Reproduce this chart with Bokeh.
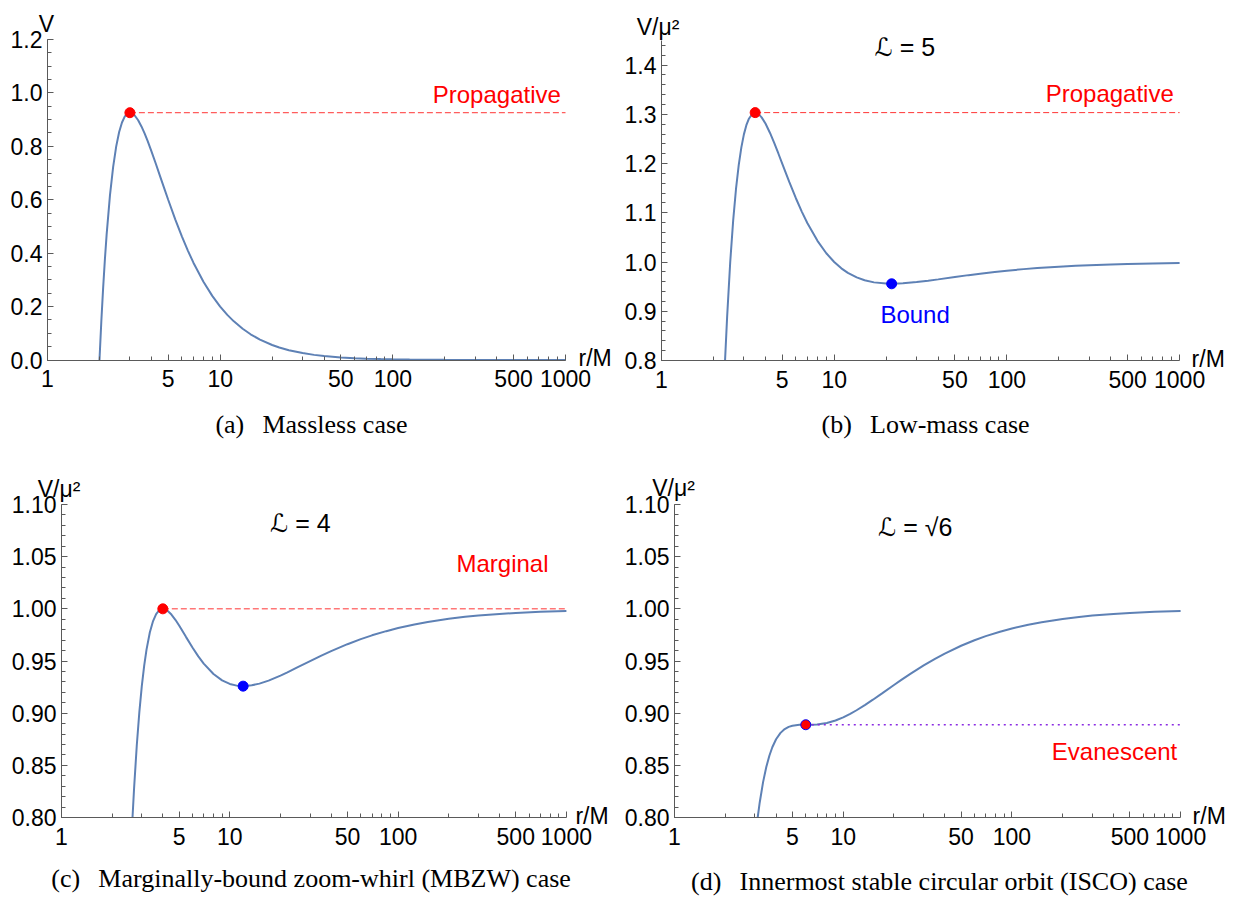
from bokeh.plotting import figure
from bokeh.models import FixedTicker, PrintfTickFormatter, Label, Range1d
from bokeh.layouts import row, column
from bokeh.embed import file_html
from bokeh.resources import INLINE

# ---------------- data ----------------
r_grid = [2.0, 2.05, 2.1, 2.15, 2.2, 2.3, 2.4, 2.5, 2.6, 2.7, 2.8, 2.9, 3.0, 3.1, 3.2,
          3.35, 3.5, 3.65, 3.8, 4.0, 4.25, 4.5, 4.75, 5.0, 5.5, 6.0, 6.5, 7.0, 8.0, 9.0,
          10, 11, 12, 13.5, 15, 17, 20, 22, 25, 30, 35, 40, 50, 60, 70, 85, 100, 125,
          150, 200, 250, 300, 400, 500, 700, 1000]

v_massless = [0.0, 0.1451, 0.2700, 0.3773, 0.4696, 0.6164, 0.7234, 0.8000, 0.8534, 0.8891,
              0.9111, 0.9225, 0.9259, 0.9231, 0.9155, 0.8977, 0.8746, 0.8483, 0.8201, 0.7813,
              0.7328, 0.6859, 0.6415, 0.6000, 0.5259, 0.4630, 0.4096, 0.3644, 0.2930, 0.2401,
              0.2000, 0.1690, 0.1447, 0.1169, 0.0963, 0.0763, 0.0563, 0.0470, 0.0368, 0.0259,
              0.0192, 0.0148, 0.0096, 0.0067, 0.0050, 0.0034, 0.0025, 0.0016, 0.0011, 0.0006,
              0.0004, 0.0003, 0.0002, 0.0001, 0.0001, 0.0000]

v_lowmass = [0.0, 0.1695, 0.3176, 0.4471, 0.5605, 0.7468, 0.8901, 1.0000, 1.0842, 1.1484,
             1.1968, 1.2328, 1.2593, 1.2779, 1.2905, 1.3007, 1.3032, 1.3004, 1.2938, 1.2813,
             1.2622, 1.2415, 1.2205, 1.2000, 1.1623, 1.1296, 1.1019, 1.0787, 1.0430, 1.0179,
             1.0000, 0.9872, 0.9780, 0.9688, 0.9630, 0.9587, 0.9563, 0.9561, 0.9568, 0.9593,
             0.9621, 0.9648, 0.9696, 0.9734, 0.9764, 0.9799, 0.9825, 0.9856, 0.9878, 0.9906,
             0.9924, 0.9936, 0.9952, 0.9961, 0.9972, 0.9980]

v_mbzw = [0.0, 0.1173, 0.2204, 0.3112, 0.3914, 0.5249, 0.6296, 0.7120, 0.7769, 0.8283,
          0.8688, 0.9007, 0.9259, 0.9456, 0.9609, 0.9775, 0.9883, 0.9950, 0.9986, 1.0000,
          0.9984, 0.9945, 0.9895, 0.9840, 0.9729, 0.9630, 0.9544, 0.9475, 0.9375, 0.9314,
          0.9280, 0.9264, 0.9259, 0.9267, 0.9283, 0.9312, 0.9360, 0.9391, 0.9436, 0.9499,
          0.9552, 0.9595, 0.9661, 0.9710, 0.9746, 0.9786, 0.9816, 0.9850, 0.9874, 0.9904,
          0.9923, 0.9935, 0.9951, 0.9961, 0.9972, 0.9980]

v_isco = [0.0, 0.0940, 0.1772, 0.2509, 0.3163, 0.4263, 0.5139, 0.5840, 0.6404, 0.6860,
          0.7230, 0.7531, 0.7778, 0.7979, 0.8144, 0.8339, 0.8484, 0.8592, 0.8673, 0.8750,
          0.8811, 0.8848, 0.8869, 0.8880, 0.8888, 0.8889, 0.8889, 0.8892, 0.8906, 0.8930,
          0.8960, 0.8993, 0.9028, 0.9080, 0.9129, 0.9190, 0.9270, 0.9316, 0.9377, 0.9458,
          0.9521, 0.9571, 0.9646, 0.9699, 0.9738, 0.9781, 0.9812, 0.9848, 0.9872, 0.9903,
          0.9922, 0.9935, 0.9951, 0.9961, 0.9972, 0.9980]

# where each curve enters the plotted window (at the bottom of its y range)
entry_r = [2.0, 2.333, 2.642, 3.113]

# special points: potential maxima (red) and minima (blue)
peak_r = [3.0, 3.486, 4.0, 6.0]
peak_v = [0.9259, 1.3035, 1.0, 0.8889]
bound_r = [21.51, 12.0]
bound_v = [0.9558, 0.9259]

x_major = [1, 5, 10, 50, 100, 500, 1000]
x_minor = [2, 3, 4, 6, 7, 8, 9, 20, 30, 40, 60, 70, 80, 90, 200, 300, 400, 600, 700, 800, 900]

y_major_a = [0.0, 0.2, 0.4, 0.6, 0.8, 1.0, 1.2]
y_major_b = [0.8, 0.9, 1.0, 1.1, 1.2, 1.3, 1.4]
y_major_cd = [0.80, 0.85, 0.90, 0.95, 1.00, 1.05, 1.10]

captions = ["(a)\u2002\u2009Massless case",
            "(b)\u2002\u2009Low-mass case",
            "(c)\u2002\u2009Marginally-bound zoom-whirl (MBZW) case",
            "(d)\u2002\u2009Innermost stable circular orbit (ISCO) case"]

# ---------------- style ----------------
CURVE = "#5E81B5"
AXIS = "#5a5a5a"
SANS = "Liberation Sans, DejaVu Sans, sans-serif"
SERIF = "Liberation Serif, serif"
FS = "23px"


def frange(a, b, step):
    n = int(round((b - a) / step))
    return [round(a + i * step, 4) for i in range(n + 1)]


def panel(W, H, x1_px, dec_px, ylo_px, yhi_px, ylo, yhi, ymaj, yminor, yfmt):
    # frame covers the whole figure; axes are pinned at x=1 and y=ylo
    xs = 10 ** (-x1_px / dec_px)
    xe = 10 ** ((W - x1_px) / dec_px)
    upp = (yhi - ylo) / (ylo_px - yhi_px)
    ys = ylo - (H - ylo_px) * upp
    ye = yhi + yhi_px * upp
    p = figure(width=W, height=H, x_axis_type="log", x_range=Range1d(xs, xe),
               y_range=Range1d(ys, ye), output_backend="svg", toolbar_location=None,
               min_border=0, min_border_left=0, min_border_right=0, min_border_top=0,
               min_border_bottom=0, title=None)
    p.xgrid.visible = False
    p.ygrid.visible = False
    p.outline_line_color = None
    p.background_fill_color = "white"
    p.border_fill_color = "white"
    p.xaxis.fixed_location = ylo
    p.yaxis.fixed_location = 1
    p.xaxis.bounds = (1, 1000)
    p.yaxis.bounds = (ylo, yhi)
    p.xaxis.ticker = FixedTicker(ticks=x_major, minor_ticks=x_minor)
    p.xaxis.formatter = PrintfTickFormatter(format="%d")
    p.yaxis.ticker = FixedTicker(ticks=ymaj, minor_ticks=yminor)
    p.yaxis.formatter = PrintfTickFormatter(format=yfmt)
    for ax in (p.xaxis[0], p.yaxis[0]):
        ax.axis_line_color = AXIS
        ax.axis_line_width = 1
        ax.major_tick_line_color = AXIS
        ax.minor_tick_line_color = AXIS
        ax.major_tick_in = 6
        ax.major_tick_out = 0
        ax.minor_tick_in = 4
        ax.minor_tick_out = 0
        ax.major_label_text_font = SANS
        ax.major_label_text_font_size = FS
        ax.major_label_text_color = "black"
    p.xaxis.major_label_standoff = 10
    p.yaxis.major_label_standoff = 5
    return p


def text(p, x, y, t, color="black", align="center", baseline="middle", xo=0, yo=0,
         font=SANS, size=FS):
    p.add_layout(Label(x=x, y=y, text=t, text_color=color, text_align=align,
                       text_baseline=baseline, x_offset=xo, y_offset=yo,
                       text_font=font, text_font_size=size))


def curve(p, idx, vals, ylo):
    rs = [entry_r[idx]] + [r for r, v in zip(r_grid, vals) if r > entry_r[idx]]
    vs = [ylo] + [v for r, v in zip(r_grid, vals) if r > entry_r[idx]]
    p.line(rs, vs, line_color=CURVE, line_width=2)


def axis_titles(p, ylab, ytop, ylo, yxo, yyo, rxo, ryo):
    text(p, 1, ytop, ylab, align="center", baseline="alphabetic", xo=yxo, yo=yyo)
    text(p, 1000, ylo, "r/M", align="left", baseline="middle", xo=rxo, yo=ryo)


# ---------------- (a) massless ----------------
pa = panel(620, 448, 47, 172.67, 359.5, 39, 0.0, 1.2, y_major_a, frange(0.0, 1.2, 0.05), "%.1f")
curve(pa, 0, v_massless, 0.0)
pa.line([peak_r[0], 1000], [peak_v[0], peak_v[0]], line_color="red", line_dash="6 3",
        line_width=1, line_alpha=0.8)
pa.scatter([peak_r[0]], [peak_v[0]], size=10, fill_color="red", line_color="red")
text(pa, 400, 0.995, "Propagative", color="red", size="24px")
axis_titles(pa, "V", 1.2, 0.0, -1, 16, 13, 2)
text(pa, 33.8, 0.0, captions[0], yo=-64.5, font=SERIF, size="26px")

# ---------------- (b) low mass ----------------
pb = panel(622, 448, 41, 172.7, 360, 40, 0.8, 1.45, y_major_b, frange(0.8, 1.44, 0.02), "%.1f")
curve(pb, 1, v_lowmass, 0.8)
pb.line([peak_r[1], 1000], [peak_v[1], peak_v[1]], line_color="red", line_dash="6 3",
        line_width=1, line_alpha=0.8)
pb.scatter([peak_r[1]], [peak_v[1]], size=10, fill_color="red", line_color="red")
pb.scatter([bound_r[0]], [bound_v[0]], size=10, fill_color="blue", line_color="blue")
text(pb, 25.7, 1.436, "\u2112 = 5", size="25px")
text(pb, 394, 1.342, "Propagative", color="red", size="24px")
text(pb, 29.4, 0.893, "Bound", color="blue", size="24px")
axis_titles(pb, "V/\u03bc\u00b2", 1.45, 0.8, -3.5, 14, 12, 2)
text(pb, 33.8, 0.8, captions[1], yo=-64, font=SERIF, size="26px")

# ---------------- (c) MBZW ----------------
pc = panel(620, 449, 61, 168.3, 369, 56, 0.8, 1.1, y_major_cd, frange(0.8, 1.1, 0.01), "%.2f")
curve(pc, 2, v_mbzw, 0.8)
pc.line([peak_r[2], 1000], [peak_v[2], peak_v[2]], line_color="red", line_dash="6 3",
        line_width=1, line_alpha=0.8)
pc.scatter([peak_r[2]], [peak_v[2]], size=10, fill_color="red", line_color="red")
pc.scatter([bound_r[1]], [bound_v[1]], size=10, fill_color="blue", line_color="blue")
text(pc, 26.3, 1.0827, "\u2112 = 4", size="25px")
text(pc, 417, 1.0434, "Marginal", color="red", size="24px")
axis_titles(pc, "V/\u03bc\u00b2", 1.1, 0.8, -2.5, 16, 9, 2)
text(pc, 30.4, 0.8, captions[2], yo=-61, font=SERIF, size="26px")

# ---------------- (d) ISCO ----------------
pd = panel(622, 449, 54, 168.7, 369, 56, 0.8, 1.1, y_major_cd, frange(0.8, 1.1, 0.01), "%.2f")
curve(pd, 3, v_isco, 0.8)
pd.line([peak_r[3], 1000], [peak_v[3], peak_v[3]], line_color="#8a2be2", line_dash="2 4",
        line_width=1.5)
pd.scatter([peak_r[3]], [peak_v[3]], size=10, fill_color="red", line_color="blue",
           line_width=1)
text(pd, 26.8, 1.078, "\u2112 = \u221a6", size="25px")
text(pd, 406, 0.8628, "Evanescent", color="red", size="24px")
axis_titles(pd, "V/\u03bc\u00b2", 1.1, 0.8, -1, 17, 12, 2)
text(pd, 37.2, 0.8, captions[3], yo=-64, font=SERIF, size="26px")

layout = column(row(pa, pb, spacing=0), row(pc, pd, spacing=0), spacing=0)

open("out.html", "w").write(file_html(layout, INLINE))
